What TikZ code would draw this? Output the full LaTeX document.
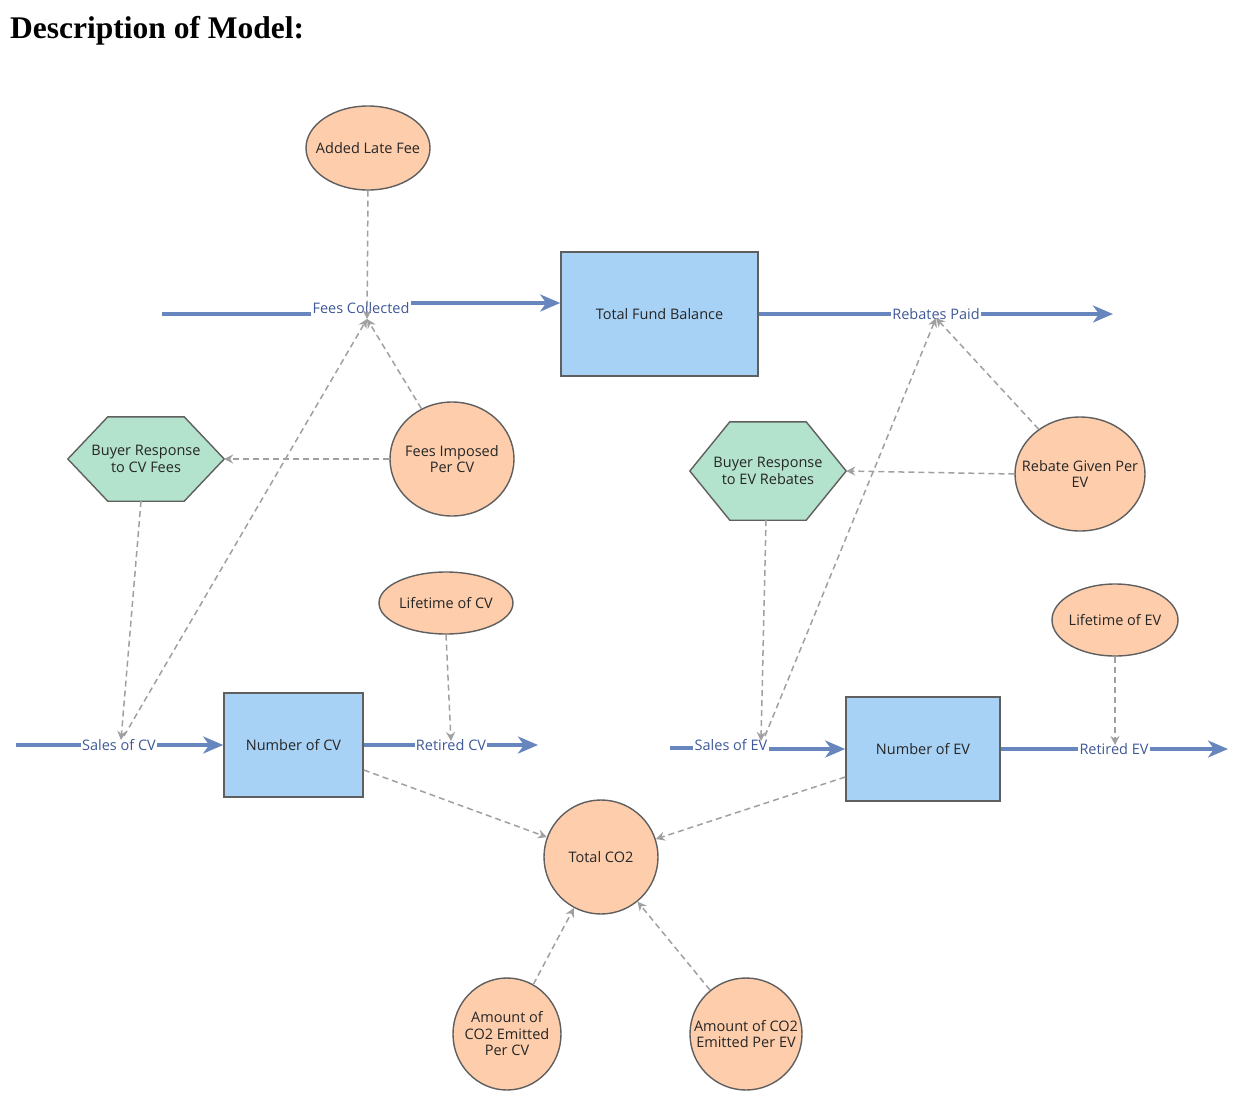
\documentclass[tikz,border=0pt]{standalone}
\usepackage{fontspec}
\setmainfont{Open Sans}
\newfontfamily\titlefont{Liberation Serif}
\usetikzlibrary{shapes.geometric,arrows.meta,backgrounds}
\definecolor{flowblue}{RGB}{104,134,190}
\definecolor{flowtext}{RGB}{62,88,152}
\definecolor{stockfill}{RGB}{168,210,245}
\definecolor{edgegray}{RGB}{95,95,95}
\definecolor{peach}{RGB}{253,205,172}
\definecolor{mint}{RGB}{179,226,205}
\definecolor{linkgray}{RGB}{160,160,160}
\tikzset{
  txt/.style={font=\fontsize{14.5}{16.5}\selectfont, text=black!85, align=center},
  stock/.style={txt, rectangle, draw=edgegray, line width=1.6pt, fill=stockfill, inner sep=0pt},
  aux/.style={ellipse, draw=edgegray, line width=1.4pt, fill=peach, inner sep=0pt},
  hexnode/.style={txt, rectangle, inner sep=0pt, minimum width=156pt},
  hexdraw/.style={draw=edgegray, line width=1.4pt, fill=mint, line join=miter},
  flowlabel/.style={font=\fontsize{14.5}{16.5}\selectfont, text=flowtext, inner sep=1pt},
  flowline/.style={flowblue, line width=3.5pt},
  flowarrow/.style={flowline, -{Stealth[length=20pt,width=17pt,inset=6pt]}},
  link/.style={linkgray, line width=1.5pt, dash pattern=on 6pt off 4pt, -{Stealth[length=9pt,width=9pt,inset=3pt]}}
}
\begin{document}
\begin{tikzpicture}[x=1pt,y=-1pt]
\useasboundingbox (0,0) rectangle (1248,1106);
\node[anchor=base west, inner sep=0pt, font=\titlefont\bfseries\fontsize{31.5}{34}\selectfont] (title) at (10,38) {Description of Model:};

% stocks
\node[stock, minimum width=197pt, minimum height=124pt] (tfb) at (659.5,314) {Total Fund Balance};
\node[stock, minimum width=139pt, minimum height=104pt] (ncv) at (293.5,745) {Number of CV};
\node[stock, minimum width=154pt, minimum height=104pt] (nev) at (923,749) {Number of EV};

% auxiliaries
\node[aux, minimum width=124pt, minimum height=84pt, label={[txt]center:Added Late Fee}] (alf) at (368,148) {};
\node[aux, minimum width=124pt, minimum height=114pt, label={[txt]center:{Fees Imposed\\Per CV}}] (fip) at (452,459) {};
\node[aux, minimum width=130pt, minimum height=114pt, label={[txt]center:{Rebate Given Per\\EV}}] (rge) at (1080,474) {};
\node[aux, minimum width=134pt, minimum height=62pt, label={[txt]center:Lifetime of CV}] (lcv) at (446,603) {};
\node[aux, minimum width=126pt, minimum height=72pt, label={[txt]center:Lifetime of EV}] (lev) at (1115,620) {};
\node[aux, minimum width=114pt, minimum height=114pt, label={[txt]center:Total CO2}] (tco) at (601,857) {};
\node[aux, minimum width=108pt, minimum height=112pt, label={[txt]center:{Amount of\\CO2 Emitted\\Per CV}}] (acv) at (507,1034) {};
\node[aux, minimum width=112pt, minimum height=112pt, label={[txt]center:{Amount of CO2\\Emitted Per EV}}] (aev) at (746,1034) {};

% hexagons
\node[hexnode, minimum height=84pt] (brcv) at (146,459) {Buyer Response\\to CV Fees};
\node[hexnode, minimum height=98pt] (brev) at (768,471) {Buyer Response\\to EV Rebates};
\begin{scope}[on background layer]
\draw[hexdraw] (brcv.west) -- ([xshift=40pt]brcv.north west) -- ([xshift=-40pt]brcv.north east) -- (brcv.east) -- ([xshift=-40pt]brcv.south east) -- ([xshift=40pt]brcv.south west) -- cycle;
\draw[hexdraw] (brev.west) -- ([xshift=40pt]brev.north west) -- ([xshift=-40pt]brev.north east) -- (brev.east) -- ([xshift=-40pt]brev.south east) -- ([xshift=40pt]brev.south west) -- cycle;
\end{scope}

% flow labels
\node[flowlabel] (fc) at (361,308) {Fees Collected};
\node[flowlabel] (rp) at (936,314) {Rebates Paid};
\node[flowlabel] (scv) at (119,745) {Sales of CV};
\node[flowlabel] (rcv) at (451,745) {Retired CV};
\node[flowlabel] (sev) at (731,745) {Sales of EV};
\node[flowlabel] (rev) at (1114,749) {Retired EV};

% flow end points and valves
\coordinate (fcsrc) at (162,314);
\coordinate (rpsink) at (1113,314);
\coordinate (scvsrc) at (16,745);
\coordinate (rcvsink) at (538,745);
\coordinate (sevsrc) at (670,748);
\coordinate (revsink) at (1228,749);
\coordinate (fcv) at (367,319);
\coordinate (rpv) at (936,318);
\coordinate (scvv) at (121,740);
\coordinate (scvu) at (124,736);
\coordinate (rcvv) at (451,741);
\coordinate (sevv) at (761,741);
\coordinate (sevu) at (765,736);
\coordinate (revv) at (1115,745);

% flows
\begin{scope}[on background layer]
\draw[flowline] (fcsrc) -- (fcsrc -| fc.west);
\draw[flowarrow] ([yshift=5pt]fc.east) -- ([yshift=5pt]fc.east -| tfb.west);
\draw[flowline] (tfb.east) -- (rp.west);
\draw[flowarrow] (rp.east) -- (rpsink);
\draw[flowline] (scvsrc) -- (scv.west);
\draw[flowarrow] (scv.east) -- (ncv.west);
\draw[flowline] (ncv.east) -- (rcv.west);
\draw[flowarrow] (rcv.east) -- (rcvsink);
\draw[flowline] (sevsrc) -- (sevsrc -| sev.west);
\draw[flowarrow] (sev.east |- nev.west) -- (nev.west);
\draw[flowline] (nev.east) -- (rev.west);
\draw[flowarrow] (rev.east) -- (revsink);
\end{scope}

% information links
\draw[link] (alf.south) -- (fcv);
\draw[link] (fip) -- (fcv);
\draw[link] (scvu) -- (fcv);
\draw[link] (fip.west) -- (brcv.east);
\draw[link] ([xshift=-5pt]brcv.south) -- (scvv);
\draw[link] (lcv.south) -- (rcvv);
\draw[link] ([yshift=-25pt]ncv.east) -- (tco);
\draw[link] ([yshift=-28pt]nev.west) -- (tco);
\draw[link] (acv) -- (tco);
\draw[link] (aev) -- (tco);
\draw[link] ([xshift=-2pt]brev.south) -- (sevv);
\draw[link] (sevu) -- (rpv);
\draw[link] (rge) -- (rpv);
\draw[link] (rge.west) -- (brev.east);
\draw[link] (lev.south) -- (revv);
\end{tikzpicture}
\end{document}
